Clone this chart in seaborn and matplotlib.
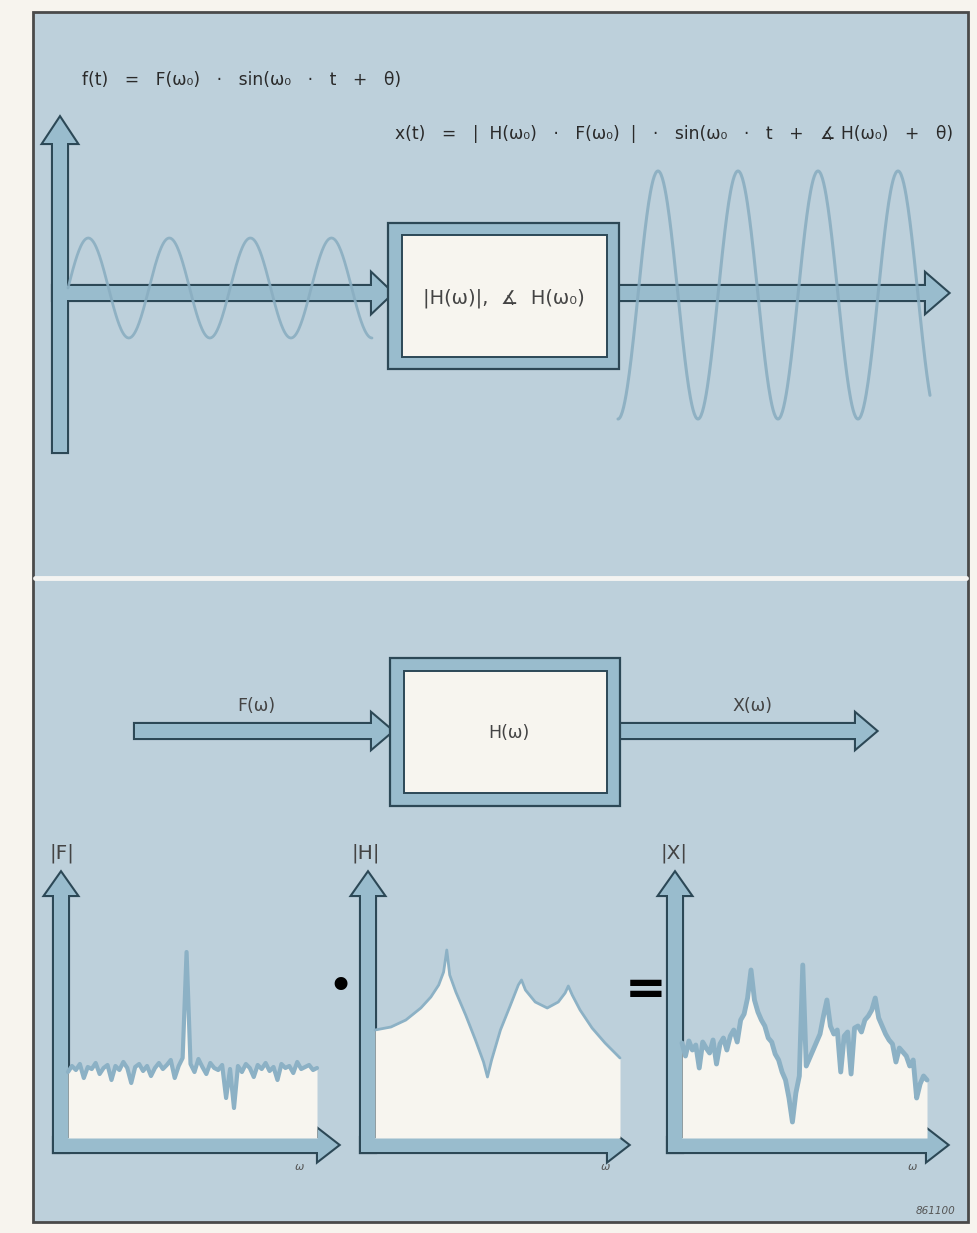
import numpy as np
import pandas as pd
import matplotlib.pyplot as plt
import seaborn as sns
from matplotlib.patches import Polygon, Rectangle

# --- dados ---
# senoide de entrada / saida: ciclos visiveis e amplitude relativa
ciclos_entrada = 3.75
ciclos_saida = 3.9
amp_entrada = 1.0
amp_saida = 1.0

# espectro |F| (ruido branco com uma raia)
F_mag = [66, 72, 68, 74, 60, 71, 69, 75, 64, 70, 73, 58, 72, 68, 76, 70,
         55, 71, 74, 67, 72, 62, 70, 75, 69, 73, 78, 60, 72, 80, 186, 74,
         66, 79, 71, 64, 75, 70, 68, 73, 40, 69, 30, 72, 66, 74, 70, 61,
         73, 69, 75, 67, 71, 58, 74, 70, 72, 65, 76, 69, 71, 73, 68, 70]

# resposta |H| (duas ressonancias, uma anti-ressonancia)
omega_H = [0.0, 0.065, 0.126, 0.187, 0.228, 0.26, 0.28, 0.293, 0.305, 0.33,
           0.37, 0.41, 0.443, 0.459, 0.476, 0.512, 0.553, 0.585, 0.598, 0.614,
           0.654, 0.703, 0.748, 0.776, 0.789, 0.805, 0.837, 0.886, 0.939, 1.0]
H_mag = [108, 111, 118, 130, 141, 153, 166, 188, 163, 146,
         123, 98, 76, 61, 78, 108, 133, 153, 158, 148,
         136, 130, 136, 145, 152, 143, 128, 110, 95, 80]

# espectro de saida |X| = |H| . |F|
X_mag = [95, 82, 97, 88, 93, 70, 96, 90, 85, 98, 74, 94, 100, 88, 102,
         108, 96, 118, 124, 140, 168, 138, 126,
         118, 112, 100, 96, 84, 78, 66, 58, 40, 16, 45, 62, 173,
         72, 80, 88, 96, 104, 122, 138, 112, 104, 108, 66, 102, 106, 64,
         110, 112, 106, 118, 122, 128, 140, 120, 112, 104, 98, 94, 76, 90,
         86, 82, 72, 78, 40, 54, 62, 58]

# --- cores ---
fundo = '#bdd0db'
seta = '#99bccd'
borda = '#2c4856'
onda = '#8aaec1'
branco = '#f7f5ef'
texto = '#2a2a2a'

W, HPX = 977, 1233

sns.set_theme(style='white')
plt.rcParams['font.family'] = ['DejaVu Sans']

fig = plt.figure(figsize=(9.77, 12.33), dpi=100)
fig.patch.set_facecolor('#f7f4ee')


def rect(x0, y0, x1, y1):
    # converte retangulo em pixels para fracao da figura
    return [x0 / W, 1 - y1 / HPX, (x1 - x0) / W, (y1 - y0) / HPX]


def seta_pts(x0, y0, x1, y1, w=14, hw=34, hl=20):
    if y0 == y1:
        d = np.sign(x1 - x0)
        xb = x1 - d * hl
        return [(x0, y0 - w / 2), (xb, y0 - w / 2), (xb, y0 - hw / 2), (x1, y0),
                (xb, y0 + hw / 2), (xb, y0 + w / 2), (x0, y0 + w / 2)]
    d = np.sign(y1 - y0)
    yb = y1 - d * hl
    return [(x0 - w / 2, y0), (x0 - w / 2, yb), (x0 - hw / 2, yb), (x0, y1),
            (x0 + hw / 2, yb), (x0 + w / 2, yb), (x0 + w / 2, y0)]


ax = fig.add_axes([0, 0, 1, 1])
ax.set_xlim(0, W)
ax.set_ylim(HPX, 0)
ax.axis('off')

# moldura
ax.add_patch(Rectangle((33, 12), 935, 1210, facecolor=fundo, edgecolor='#4a4a4a', lw=2, zorder=0))
ax.plot([35, 966], [578, 578], color='#f4f4f2', lw=3.5, zorder=1)

# setas (duas passadas para unir os contornos)
grupos = [
    [seta_pts(60, 452, 60, 118, hw=33, hl=25), seta_pts(53, 293, 392, 293, hw=38, hl=20)],
    [seta_pts(618, 293, 948, 293, hw=38, hl=22)],
    [seta_pts(135, 731, 392, 731, hw=34, hl=20)],
    [seta_pts(619, 731, 876, 731, hw=34, hl=20)],
    [seta_pts(61, 1152, 61, 873, hw=31, hl=22), seta_pts(54, 1145, 338, 1145, hw=31, hl=20)],
    [seta_pts(368, 1152, 368, 873, hw=31, hl=22), seta_pts(361, 1145, 628, 1145, hw=31, hl=20)],
    [seta_pts(675, 1152, 675, 873, hw=31, hl=22), seta_pts(668, 1145, 947, 1145, hw=31, hl=20)],
]
for g in grupos:
    for p in g:
        ax.add_patch(Polygon(p, closed=True, facecolor=seta, edgecolor=borda, lw=3, zorder=2))
    for p in g:
        ax.add_patch(Polygon(p, closed=True, facecolor=seta, edgecolor='none', zorder=3))

# blocos
for (x0, y0, x1, y1), (a0, b0, a1, b1) in [((388, 223, 619, 369), (402, 235, 607, 357)),
                                           ((390, 658, 620, 806), (404, 671, 607, 793))]:
    ax.add_patch(Rectangle((x0, y0), x1 - x0, y1 - y0, facecolor=seta, edgecolor=borda, lw=1.6, zorder=4))
    ax.add_patch(Rectangle((a0, b0), a1 - a0, b1 - b0, facecolor=branco, edgecolor=borda, lw=1.4, zorder=5))

# textos
ax.text(82, 80, 'f(t)   =   F(ω₀)   ·   sin(ω₀   ·   t   +   θ)', fontsize=12.3,
        color=texto, ha='left', va='center')
ax.text(953, 134, 'x(t)   =   |  H(ω₀)   ·   F(ω₀)  |   ·   sin(ω₀   ·   t   +   ∡ H(ω₀)   +   θ)',
        fontsize=12.3, color=texto, ha='right', va='center')
ax.text(504, 298, '|H(ω)|,  ∡  H(ω₀)', fontsize=14, color='#444444', ha='center', va='center', zorder=6)
ax.text(509, 733, 'H(ω)', fontsize=12.5, color='#444444', ha='center', va='center', zorder=6)
ax.text(256, 706, 'F(ω)', fontsize=12.5, color='#444444', ha='center', va='center')
ax.text(752, 706, 'X(ω)', fontsize=12.5, color='#444444', ha='center', va='center')
for xl, lab in [(62, '|F|'), (366, '|H|'), (674, '|X|')]:
    ax.text(xl, 853, lab, fontsize=14.5, color='#444444', ha='center', va='center')
for xl in [300, 606, 913]:
    ax.text(xl, 1167, 'ω', fontsize=8, style='italic', color='#555555', ha='center', va='center')
ax.text(340, 988, '•', fontsize=32, color='black', ha='center', va='center')
ax.text(646, 990, '=', fontsize=36, fontweight='bold', color='black', ha='center', va='center')
ax.text(955, 1211, '861100', fontsize=7.5, style='italic', color='#555555', ha='right', va='center')

# senoides
t_in = np.linspace(0, ciclos_entrada, 500)
ax_in = fig.add_axes(rect(68, 238, 372, 338))
sns.lineplot(x=t_in, y=amp_entrada * np.sin(2 * np.pi * t_in), ax=ax_in, color=onda, lw=2.0, alpha=0.9)
ax_in.set_xlim(0, ciclos_entrada)
ax_in.set_ylim(-1, 1)

t_out = np.linspace(0, ciclos_saida, 500)
ax_out = fig.add_axes(rect(618, 171, 930, 419))
sns.lineplot(x=t_out, y=-amp_saida * np.cos(2 * np.pi * t_out), ax=ax_out, color=onda, lw=2.2, alpha=0.9)
ax_out.set_xlim(0, ciclos_saida)
ax_out.set_ylim(-1, 1)

# espectros
espectros = [
    (rect(68, 930, 317, 1138), np.linspace(0, 1, len(F_mag)), F_mag, 3.0),
    (rect(375, 930, 620, 1138), np.array(omega_H), H_mag, 2.0),
    (rect(682, 930, 927, 1138), np.linspace(0, 1, len(X_mag)), X_mag, 3.5),
]
for pos, om, mag, lw in espectros:
    a = fig.add_axes(pos)
    df = pd.DataFrame({'omega': om, 'mag': mag})
    a.fill_between(df['omega'], 0, df['mag'], color=branco, lw=0)
    sns.lineplot(data=df, x='omega', y='mag', ax=a, color='#8cb1c5', lw=lw)
    a.set_xlim(0, 1)
    a.set_ylim(0, 208)

for a in [ax_in, ax_out] + fig.axes[3:]:
    a.set_facecolor('none')
    a.axis('off')
    for l in a.lines:
        l.set_clip_on(False)

fig.savefig('out.png', dpi=100, facecolor=fig.get_facecolor())
